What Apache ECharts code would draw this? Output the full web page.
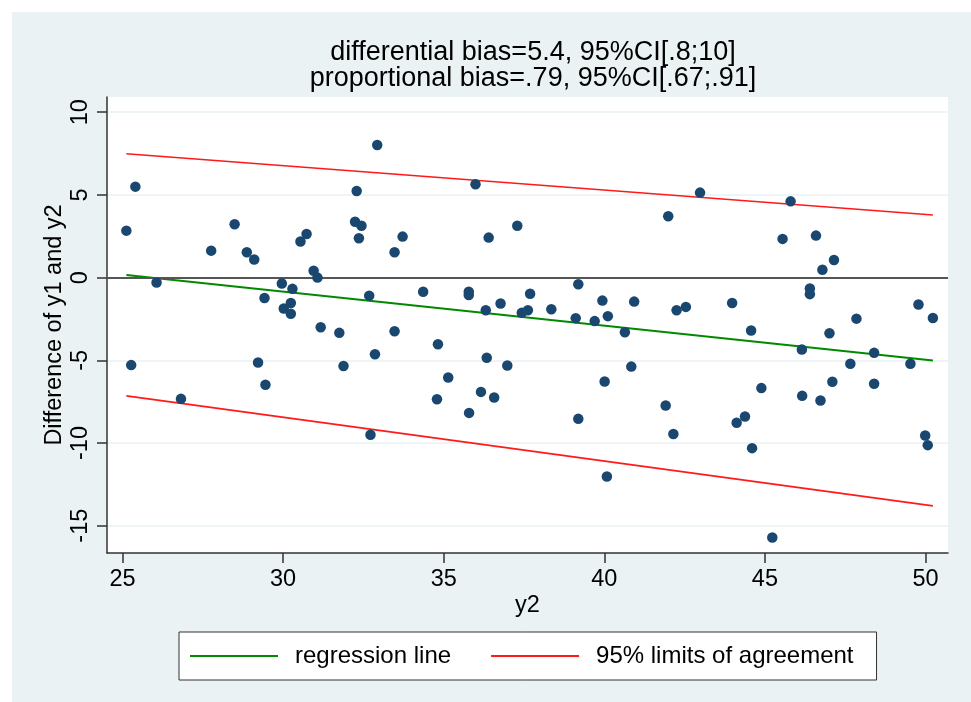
<!DOCTYPE html>
<html>
<head>
<meta charset="utf-8">
<script src="https://cdn.jsdelivr.net/npm/echarts@6/dist/echarts.min.js"></script>
<style>
  html, body { margin: 0; padding: 0; background: #ffffff; }
  #chart { width: 971px; height: 702px; }
</style>
</head>
<body>
<div id="chart"></div>
<script>
// ---- data ----
const titleLines = ['differential bias=5.4, 95%CI[.8;10]', 'proportional bias=.79, 95%CI[.67;.91]'];
const xTicks = [25, 30, 35, 40, 45, 50];
const yTicks = [-15, -10, -5, 0, 5, 10];

const y2 = [
  25.12, 25.40, 25.27, 26.06, 26.82, 27.76, 28.49, 28.87, 29.10, 29.22,
  29.42, 29.45, 29.96, 30.02, 30.24, 30.29, 30.24, 30.54, 30.73, 30.95,
  31.07, 31.17, 31.75, 31.88, 32.29, 32.24, 32.44, 32.36, 32.68, 32.72,
  32.86, 32.93, 33.47, 33.47, 33.72, 34.36, 34.82, 34.79, 35.14, 35.78,
  35.78, 35.79, 35.99, 36.16, 36.31, 36.34, 36.40, 36.57, 36.77, 36.98,
  37.29, 37.43, 37.62, 37.69, 38.35, 39.11, 39.19, 39.19, 39.70, 39.94,
  40.01, 40.08, 40.11, 40.64, 40.84, 40.93, 41.91, 41.99, 42.15, 42.25,
  42.54, 42.98, 43.98, 44.12, 44.38, 44.57, 44.60, 44.89, 45.23, 45.55,
  45.80, 46.15, 46.16, 46.40, 46.40, 46.59, 46.73, 46.79, 47.01, 47.10,
  47.15, 47.66, 47.85, 48.40, 48.40, 49.53, 49.78, 49.99, 50.07, 50.23
];
const diff = [
  2.84, 5.50, -5.29, -0.30, -7.33, 1.63, 3.23, 1.53, 1.09, -5.13,
  -1.23, -6.48, -0.36, -1.87, -1.53, -0.68, -2.19, 2.18, 2.64, 0.42,
  0.00, -3.00, -3.34, -5.34, 5.24, 3.38, 3.14, 2.38, -1.09, -9.50,
  -4.63, 8.02, 1.53, -3.24, 2.48, -0.85, -4.03, -7.35, -6.04, -0.85,
  -1.05, -8.18, 5.64, -6.91, -1.97, -4.85, 2.42, -7.25, -1.57, -5.31,
  3.14, -2.13, -1.97, -0.98, -1.91, -2.45, -0.40, -8.54, -2.63, -1.39,
  -6.28, -12.02, -2.33, -3.30, -5.38, -1.45, -7.73, 3.71, -9.46, -1.97,
  -1.77, 5.14, -1.53, -8.78, -8.40, -3.20, -10.31, -6.68, -15.71, 2.34,
  4.61, -4.35, -7.15, -0.66, -1.00, 2.54, -7.43, 0.48, -3.36, -6.30,
  1.07, -5.21, -2.48, -4.55, -6.42, -5.21, -1.63, -9.55, -10.13, -2.44
];
const lineX = [25.12, 50.23];
const regressionY = [0.16, -5.01];
const upperLoaY = [7.49, 3.79];
const lowerLoaY = [-7.15, -13.80];
const legendNames = ['regression line', '95% limits of agreement'];

// ---- chart ----
const FONT = '"Liberation Sans", Arial, Helvetica, sans-serif';
const BG = '#eaf2f3';
const NAVY = '#1a476f';
const GREEN = '#008a00';
const RED = '#ff1a1a';

const chart = echarts.init(document.getElementById('chart'), null, { renderer: 'canvas' });

const pts = y2.map((x, i) => [x, diff[i]]);
const toLine = ys => lineX.map((x, i) => [x, ys[i]]);

const option = {
  backgroundColor: '#ffffff',
  animation: false,
  graphic: [{
    type: 'rect', z: -100, silent: true,
    shape: { x: 12, y: 12, width: 959, height: 690 },
    style: { fill: BG }
  }],
  title: {
    text: titleLines.join('\n'),
    left: 528, top: 35, textAlign: 'center',
    textStyle: { fontFamily: FONT, fontSize: 27, fontWeight: 'normal', color: '#000', lineHeight: 26 }
  },
  legend: {
    data: legendNames,
    left: 179, top: 632,
    padding: [12, 23, 12, 11],
    itemWidth: 88, itemHeight: 2, itemGap: 40,
    icon: 'rect',
    backgroundColor: '#ffffff',
    borderColor: '#333333', borderWidth: 1, borderRadius: 0,
    textStyle: { fontFamily: FONT, fontSize: 24, color: '#000', padding: [0, 0, 0, 12] }
  },
  grid: {
    left: 107, right: 23, top: 97, bottom: 149,
    show: true, backgroundColor: '#ffffff', borderWidth: 0,
    containLabel: false
  },
  xAxis: {
    type: 'value', min: 24.517, max: 50.70,
    name: 'y2', nameLocation: 'middle', nameGap: 41, nameMoveOverlap: false,
    nameTextStyle: { fontFamily: FONT, fontSize: 23.5, color: '#000' },
    axisLine: { show: true, onZero: false, lineStyle: { color: '#333', width: 1.5 } },
    axisTick: { show: true, length: 10, customValues: xTicks, lineStyle: { color: '#333', width: 1.5 } },
    axisLabel: { customValues: xTicks, margin: 15, fontFamily: FONT, fontSize: 23.5, color: '#000' },
    splitLine: { show: false }
  },
  yAxis: {
    type: 'value', min: -16.65, max: 10.92,
    name: 'Difference of y1 and y2', nameLocation: 'middle', nameGap: 40, nameRotate: 90,
    nameMoveOverlap: false,
    nameTextStyle: { fontFamily: FONT, fontSize: 23.5, color: '#000' },
    axisLine: { show: true, onZero: false, lineStyle: { color: '#333', width: 1.5 } },
    axisTick: { show: true, length: 10, customValues: yTicks, lineStyle: { color: '#333', width: 1.5 } },
    axisLabel: { customValues: yTicks, rotate: 90, margin: 14, fontFamily: FONT, fontSize: 23.5, color: '#000' },
    splitLine: { show: true, lineStyle: { color: BG, width: 1.5 } }
  },
  series: [
    {
      type: 'scatter', name: 'points', data: pts,
      symbol: 'circle', symbolSize: 10.5,
      itemStyle: { color: NAVY, opacity: 1 },
      z: 5,
      markLine: {
        silent: true, symbol: 'none', animation: false,
        label: { show: false },
        lineStyle: { color: '#555', width: 2, type: 'solid' },
        data: [{ yAxis: 0 }]
      }
    },
    {
      type: 'line', name: legendNames[0], data: toLine(regressionY),
      showSymbol: false, color: GREEN, lineStyle: { color: GREEN, width: 2 }, z: 4
    },
    {
      type: 'line', name: legendNames[1], data: toLine(upperLoaY),
      showSymbol: false, color: RED, lineStyle: { color: RED, width: 1.6 }, z: 4
    },
    {
      type: 'line', name: legendNames[1], data: toLine(lowerLoaY),
      showSymbol: false, color: RED, lineStyle: { color: RED, width: 1.6 }, z: 4
    }
  ]
};
chart.setOption(option);
</script>
</body>
</html>
